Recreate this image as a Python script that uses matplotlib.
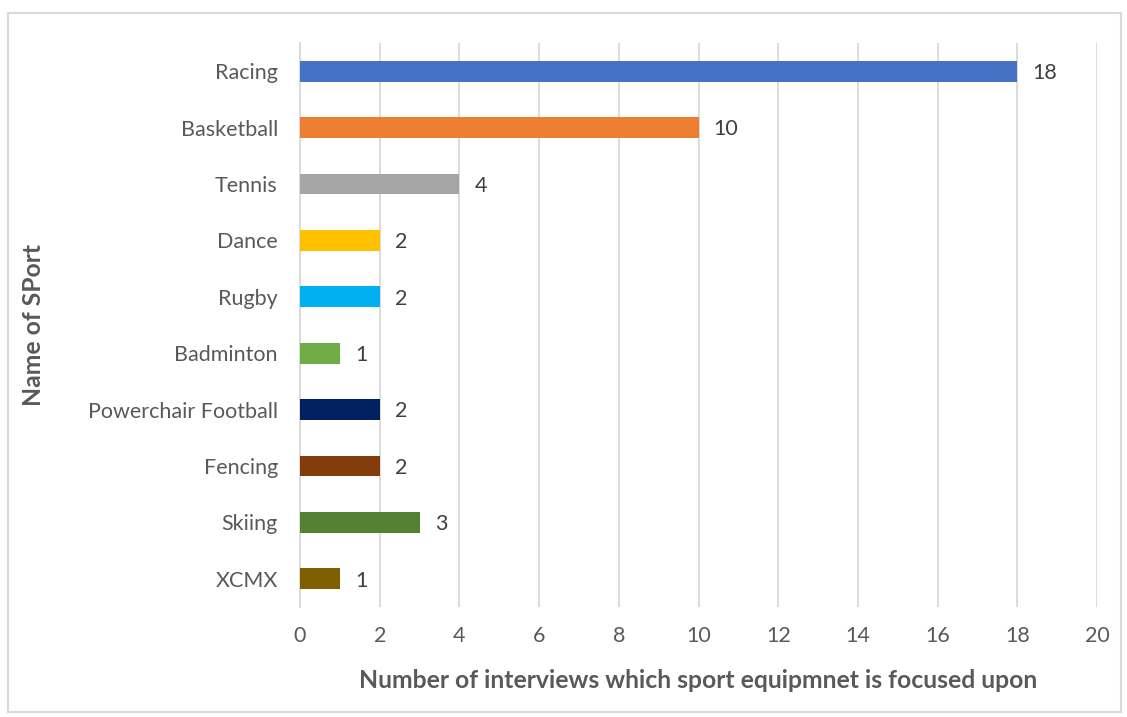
import matplotlib.pyplot as plt
from matplotlib.patches import Rectangle

# data
sports = ['Racing', 'Basketball', 'Tennis', 'Dance', 'Rugby', 'Badminton',
          'Powerchair Football', 'Fencing', 'Skiing', 'XCMX']
counts = [18, 10, 4, 2, 2, 1, 2, 2, 3, 1]
colors = ['#4472C4', '#ED7D31', '#A5A5A5', '#FFC000', '#00B0F0', '#70AD47',
          '#002060', '#843C0C', '#548235', '#7F6000']

plt.rcParams['font.family'] = ['Lato', 'DejaVu Sans']
text_col = '#595959'

fig = plt.figure(figsize=(11.27, 7.17), dpi=100)
ax = fig.add_axes([0.2662, 0.1534, 0.7072, 0.7866])

# outer chart border
fig.patches.append(Rectangle((8 / 1127, 5 / 717), 1113 / 1127, 699 / 717,
                             transform=fig.transFigure, fill=False,
                             edgecolor='#D9D9D9', linewidth=1.5))

pos = list(range(len(sports)))
ax.barh(pos, counts, height=0.37, color=colors, zorder=3)
for p, v in zip(pos, counts):
    ax.text(v + 0.38, p + 0.03, str(v), va='center', ha='left', fontsize=15.5, color='#404040')

ax.set_ylim(len(sports) - 0.5, -0.5)
ax.set_yticks(pos)
ax.set_yticklabels(sports, fontsize=15.5, color=text_col)
ax.set_xlim(0, 20)
ax.set_xticks(range(0, 21, 2))
ax.tick_params(axis='x', labelsize=15.5, labelcolor=text_col, length=0, pad=14)
ax.tick_params(axis='y', length=0, pad=16)

ax.grid(axis='x', color='#D9D9D9', linewidth=1.3, zorder=0)
for s in ['top', 'right', 'bottom']:
    ax.spines[s].set_visible(False)
ax.spines['left'].set_color('#D9D9D9')
ax.spines['left'].set_linewidth(1.3)

ax.set_xlabel('Number of interviews which sport equipmnet is focused upon',
              fontsize=17.8, fontweight='bold', color=text_col, labelpad=16)
fig.text(34 / 1127, 1 - 325 / 717, 'Name of SPort', rotation=90, ha='center', va='center',
         fontsize=17.8, fontweight='bold', color=text_col)

fig.savefig('out.png', dpi=100)
